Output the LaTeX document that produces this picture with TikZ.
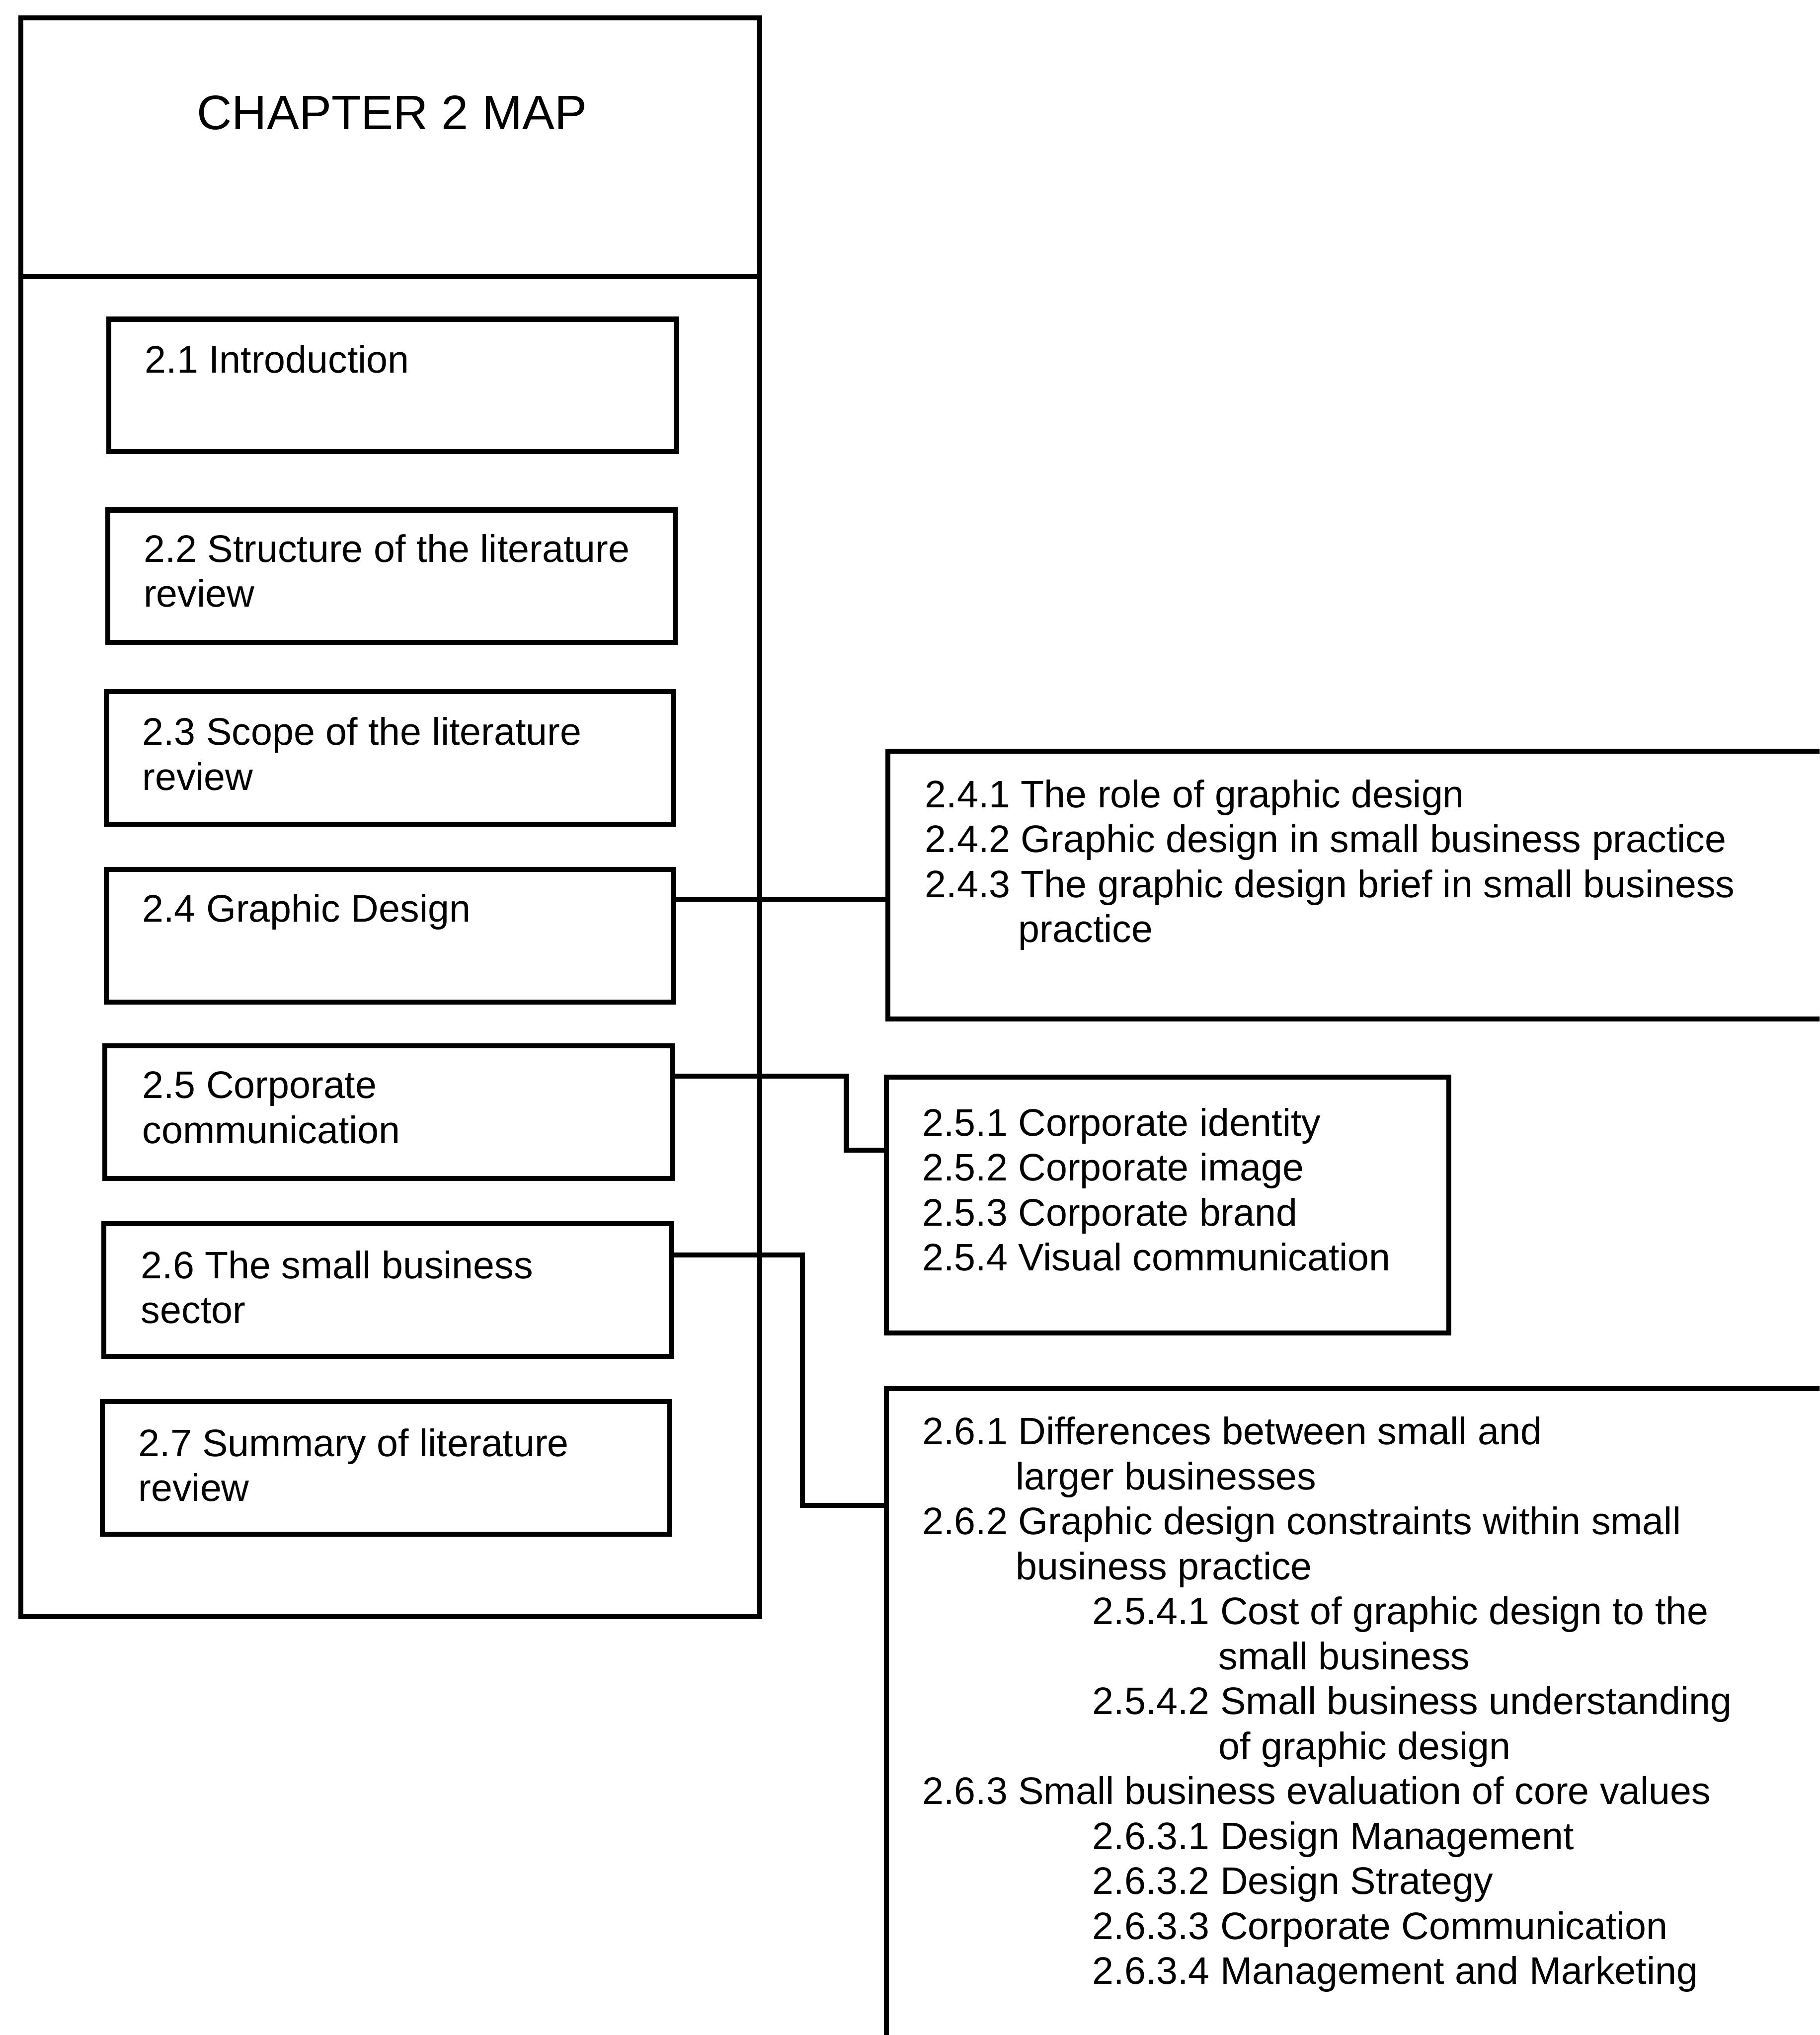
\documentclass[tikz,border=0pt]{standalone}
\usepackage{fontspec}
\setmainfont{Liberation Sans}
\usepackage{tikz}

\newcommand{\mapbody}{\fontsize{8.4}{9.85}\selectfont}
\newcommand{\maptitle}{\fontsize{10.6}{12}\selectfont}

\begin{document}
\begin{tikzpicture}[x=0.01cm, y=-0.01cm,
  box/.style={draw, black, line width=1.1pt, rectangle, inner sep=0pt, anchor=north west},
  secbox/.style={box, minimum width=4.37cm, minimum height=1.02cm},
  txt/.style={anchor=north west, align=left, inner sep=0pt, font=\mapbody},
  link/.style={black, line width=1.1pt}]
\clip (0,0) rectangle (1402,1568);

\node [box, minimum width=5.69cm, minimum height=1.99cm] (head) at (14,12) {};
\node [box, minimum width=5.69cm, minimum height=10.32cm] (body) at (14,211) {};
\node [inner sep=0pt, font=\maptitle] (title) at (302,87) {CHAPTER 2 MAP};

\node [secbox] (s21) at (82,244) {};
\node [secbox] (s22) at (81,391) {};
\node [secbox] (s23) at (80,531) {};
\node [secbox] (s24) at (80,668) {};
\node [secbox] (s25) at (79,804) {};
\node [secbox] (s26) at (78,941) {};
\node [secbox] (s27) at (77,1078) {};
\node [txt] (t21) at ([shift={(29,21)}]s21.north west) {2.1 Introduction};
\node [txt] (t22) at ([shift={(29,20)}]s22.north west) {2.2 Structure of the literature\\review};
\node [txt] (t23) at ([shift={(29,21)}]s23.north west) {2.3 Scope of the literature\\review};
\node [txt] (t24) at ([shift={(29,20)}]s24.north west) {2.4 Graphic Design};
\node [txt] (t25) at ([shift={(30,21)}]s25.north west) {2.5 Corporate\\communication};
\node [txt] (t26) at ([shift={(30,22)}]s26.north west) {2.6 The small business\\sector};
\node [txt] (t27) at ([shift={(29,22)}]s27.north west) {2.7 Summary of literature\\review};

\node [box, minimum width=8cm, minimum height=2.06cm] (d24) at (682,577) {};
\node [box, minimum width=4.33cm, minimum height=1.97cm] (d25) at (681,828) {};
\node [box, minimum width=8cm, minimum height=6cm] (d26) at (681,1068) {};
\node [txt] (u24) at ([shift={(30,23)}]d24.north west) {2.4.1 The role of graphic design\\
2.4.2 Graphic design in small business practice\\
2.4.3 The graphic design brief in small business\\
\hspace*{0.72cm}practice};
\node [txt] (u25) at ([shift={(29,25)}]d25.north west) {2.5.1 Corporate identity\\
2.5.2 Corporate image\\
2.5.3 Corporate brand\\
2.5.4 Visual communication};
\node [txt] (u26) at ([shift={(29,23)}]d26.north west) {2.6.1 Differences between small and\\
\hspace*{0.72cm}larger businesses\\
2.6.2 Graphic design constraints within small\\
\hspace*{0.72cm}business practice\\
\hspace*{1.31cm}2.5.4.1 Cost of graphic design to the\\
\hspace*{2.28cm}small business\\
\hspace*{1.31cm}2.5.4.2 Small business understanding\\
\hspace*{2.28cm}of graphic design\\
2.6.3 Small business evaluation of core values\\
\hspace*{1.31cm}2.6.3.1 Design Management\\
\hspace*{1.31cm}2.6.3.2 Design Strategy\\
\hspace*{1.31cm}2.6.3.3 Corporate Communication\\
\hspace*{1.31cm}2.6.3.4 Management and Marketing};

\draw [link] ([yshift=-0.25cm]s24.north east) -- ([yshift=-0.25cm]s24.north east -| d24.west);
\draw [link] ([yshift=-0.25cm]s25.north east) -- ++(132,0) |- ([yshift=-0.58cm]d25.north west);
\draw [link] ([yshift=-0.26cm]s26.north east) -- ++(99,0) |- ([yshift=-0.92cm]d26.north west);
\end{tikzpicture}
\end{document}
